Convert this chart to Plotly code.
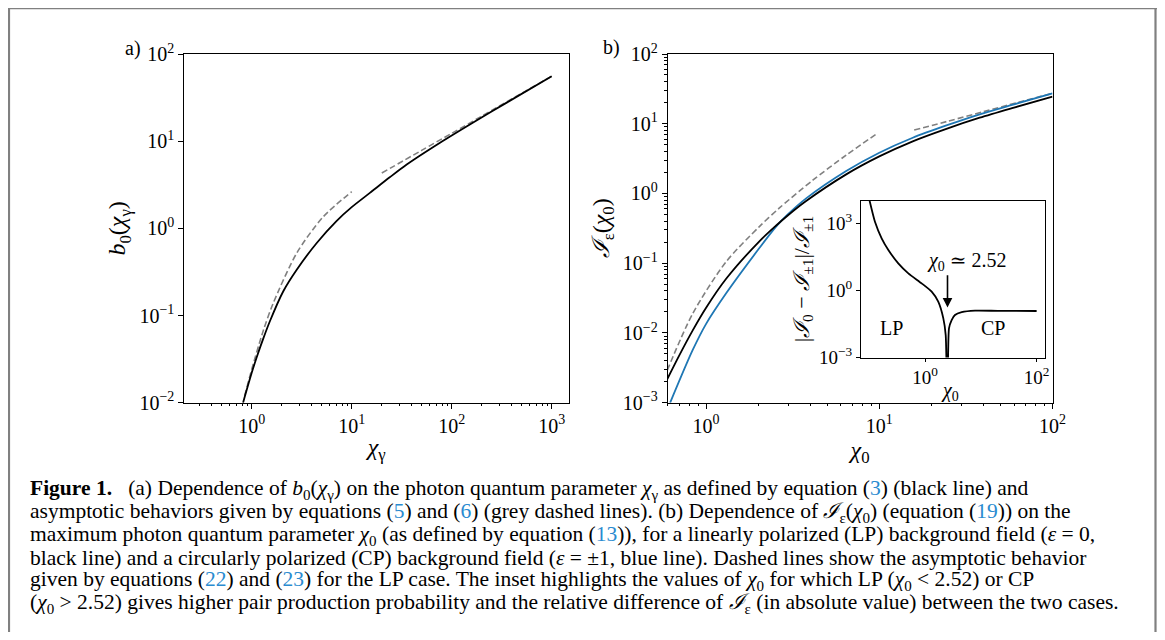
import math
import plotly.graph_objects as go

# ---------------- data ----------------
# Panel a: b0(chi_gamma)
a_chi = [0.82, 1.0, 1.12, 1.31, 1.52, 2.07, 2.82, 4.47, 7.08, 10, 15.2, 24, 35.5, 76.4, 164, 355, 1000]
a_b0 = [0.01, 0.022, 0.033, 0.055, 0.086, 0.19, 0.335, 0.68, 1.22, 1.75, 2.55, 3.85, 5.4, 9.6, 16.4, 27.7, 55.5]
a_small_chi = [0.85, 1.0, 1.31, 1.64, 2.82, 5.2, 10]
a_small_b0 = [0.012, 0.024, 0.068, 0.138, 0.52, 1.36, 2.63]
a_large_chi = [20, 50, 100, 200, 500, 1000]
a_large_b0 = [4.31, 7.84, 12.3, 19.4, 35.3, 55.5]

# Panel b: I_eps(chi_0)
b_chi_lp = [0.596, 0.7, 0.837, 1.0, 1.305, 2.03, 2.52, 2.96, 3.78, 6.44, 10, 15.6, 24.4, 38, 59.2, 100]
b_I_lp = [0.00217, 0.00478, 0.0109, 0.023, 0.0598, 0.206, 0.342, 0.484, 0.78, 1.88, 3.4, 5.6, 8.45, 12.2, 16.9, 24.5]
b_chi_cp = [0.62, 0.837, 1.0, 1.305, 2.03, 2.52, 2.96, 3.78, 6.44, 10, 15.6, 24.4, 38, 59.2, 100]
b_I_cp = [0.001, 0.0057, 0.0135, 0.037, 0.165, 0.33, 0.5, 0.85, 2.1, 3.84, 6.3, 9.46, 13.66, 18.8, 27.2]
b_small_chi = [0.596, 0.837, 1.305, 2.03, 2.65, 4.13, 6.44, 9.8]
b_small_I = [0.0029, 0.019, 0.105, 0.335, 0.62, 1.55, 3.55, 7.36]
b_large_chi = [15.9, 25, 40, 63, 100]
b_large_I = [8.13, 10.9, 14.9, 20.2, 27.3]

# Inset: |I0 - I±1| / I±1
inset_chi = [0.1, 0.126, 0.166, 0.219, 0.33, 0.5, 0.867, 1.31, 1.72, 2.12, 2.34, 2.52,
             2.68, 2.99, 3.43, 4.53, 7.86, 20, 100]
inset_rel = [1.1e4, 1150, 209, 63, 16, 5.7, 2.04, 0.87, 0.31, 0.056, 0.01, 1e-6,
             0.02, 0.047, 0.079, 0.105, 0.123, 0.121, 0.119]
crossing_chi = 2.52
arrow_from, arrow_to = 5.5, 0.17

# Tick labels
a_xtick_vals = [1, 10, 100, 1000]
a_xtick_text = ["10<sup>0</sup>", "10<sup>1</sup>", "10<sup>2</sup>", "10<sup>3</sup>"]
a_ytick_vals = [0.01, 0.1, 1, 10, 100]
a_ytick_text = ["10<sup>−2</sup>", "10<sup>−1</sup>", "10<sup>0</sup>", "10<sup>1</sup>", "10<sup>2</sup>"]
b_xtick_vals = [1, 10, 100]
b_xtick_text = ["10<sup>0</sup>", "10<sup>1</sup>", "10<sup>2</sup>"]
b_ytick_vals = [0.001, 0.01, 0.1, 1, 10, 100]
b_ytick_text = ["10<sup>−3</sup>", "10<sup>−2</sup>", "10<sup>−1</sup>", "10<sup>0</sup>", "10<sup>1</sup>", "10<sup>2</sup>"]
in_xtick_vals = [1, 100]
in_xtick_text = ["10<sup>0</sup>", "10<sup>2</sup>"]
in_ytick_vals = [0.001, 1, 1000]
in_ytick_text = ["10<sup>−3</sup>", "10<sup>0</sup>", "10<sup>3</sup>"]

LINK = "#2a8bd0"
caption_lines = [
    f"<b>Figure 1.</b>\u2002 (a) Dependence of <i>b</i><sub>0</sub>(<i>χ</i><sub>γ</sub>) on the photon quantum parameter <i>χ</i><sub>γ</sub> as defined by equation (<span style='color:{LINK}'>3</span>) (black line) and",
    f"asymptotic behaviors given by equations (<span style='color:{LINK}'>5</span>) and (<span style='color:{LINK}'>6</span>) (grey dashed lines). (b) Dependence of <i>ℐ</i><sub>ε</sub>(<i>χ</i><sub>0</sub>) (equation (<span style='color:{LINK}'>19</span>)) on the",
    f"maximum photon quantum parameter <i>χ</i><sub>0</sub> (as defined by equation (<span style='color:{LINK}'>13</span>)), for a linearly polarized (LP) background field (<i>ε</i> = 0,",
    "black line) and a circularly polarized (CP) background field (<i>ε</i> = ±1, blue line). Dashed lines show the asymptotic behavior",
    f"given by equations (<span style='color:{LINK}'>22</span>) and (<span style='color:{LINK}'>23</span>) for the LP case. The inset highlights the values of <i>χ</i><sub>0</sub> for which LP (<i>χ</i><sub>0</sub> &lt; 2.52) or CP",
    "(<i>χ</i><sub>0</sub> &gt; 2.52) gives higher pair production probability and the relative difference of <i>ℐ</i><sub>ε</sub> (in absolute value) between the two cases.",
]

# ---------------- styling ----------------
OFF = 8                      # the page places the figure 8 px from the window corner
W, H = 1165 - 2 * OFF, 640 - 2 * OFF
SERIF = "Liberation Serif, DejaVu Serif, serif"
BLACK = "black"
BLUE = "#1f77b4"
GREY = "#808080"


def px_x(p):
    return (p - OFF) / W


def px_y(p):
    return 1 - (p - OFF) / H


def log_axis(domain, rng, vals, text, anchor, minor=True, size=20, ticklen=5):
    d = dict(type="log", domain=domain, range=rng, anchor=anchor, automargin=False,
             tickmode="array", tickvals=vals, ticktext=text,
             ticks="outside", ticklen=ticklen, tickwidth=1, tickcolor=BLACK,
             showline=True, linecolor=BLACK, linewidth=1, mirror=True,
             showgrid=False, zeroline=False,
             tickfont=dict(family=SERIF, size=size, color=BLACK))
    if minor:
        d["minor"] = dict(ticks="outside", ticklen=2.5, tickwidth=0.8,
                          tickcolor=BLACK, dtick="D1", showgrid=False)
    return d


fig = go.Figure()

line_black = dict(color=BLACK, width=1.8, shape="spline", smoothing=0.8)
line_blue = dict(color=BLUE, width=1.8, shape="spline", smoothing=0.8)
line_dash = dict(color=GREY, width=1.6, dash="6px,3px", shape="spline", smoothing=0.8)

# Panel a
fig.add_trace(go.Scatter(x=a_small_chi, y=a_small_b0, mode="lines", line=line_dash, xaxis="x", yaxis="y", showlegend=False))
fig.add_trace(go.Scatter(x=a_large_chi, y=a_large_b0, mode="lines", line=line_dash, xaxis="x", yaxis="y", showlegend=False))
fig.add_trace(go.Scatter(x=a_chi, y=a_b0, mode="lines", line=line_black, xaxis="x", yaxis="y", showlegend=False))

# Panel b
fig.add_trace(go.Scatter(x=b_small_chi, y=b_small_I, mode="lines", line=line_dash, xaxis="x2", yaxis="y2", showlegend=False))
fig.add_trace(go.Scatter(x=b_large_chi, y=b_large_I, mode="lines", line=line_dash, xaxis="x2", yaxis="y2", showlegend=False))
fig.add_trace(go.Scatter(x=b_chi_cp, y=b_I_cp, mode="lines", line=line_blue, xaxis="x2", yaxis="y2", showlegend=False))
fig.add_trace(go.Scatter(x=b_chi_lp, y=b_I_lp, mode="lines", line=line_black, xaxis="x2", yaxis="y2", showlegend=False))

# Inset
fig.add_trace(go.Scatter(x=inset_chi, y=inset_rel, mode="lines",
                         line=dict(color=BLACK, width=1.8, shape="spline", smoothing=0.6),
                         xaxis="x3", yaxis="y3", showlegend=False))

ydom = [px_y(402.7), px_y(54)]
xa = log_axis([px_x(184.3), px_x(569)], [-0.674, 3.173], a_xtick_vals, a_xtick_text, "y")
ya = log_axis(ydom, [-2, 2], a_ytick_vals, a_ytick_text, "x", minor=False)
xb = log_axis([px_x(667.7), px_x(1052.5)], [-0.2218, 2], b_xtick_vals, b_xtick_text, "y2")
yb = log_axis(ydom, [-3, 2], b_ytick_vals, b_ytick_text, "x2")
xi = log_axis([px_x(861), px_x(1045)], [-1.15, 2.15], in_xtick_vals, in_xtick_text, "y3",
              minor=False, size=19, ticklen=3)
yi = log_axis([px_y(357.5), px_y(200.7)], [-3, 4], in_ytick_vals, in_ytick_text, "x3",
              minor=False, size=19, ticklen=4)

title_font = dict(family=SERIF, size=24, color=BLACK)
xa["title"] = dict(text="<i>χ</i><sub>γ</sub>", font=title_font, standoff=2)
ya["title"] = dict(text="<i>b</i><sub>0</sub>(<i>χ</i><sub>γ</sub>)", font=title_font, standoff=6)
xb["title"] = dict(text="<i>χ</i><sub>0</sub>", font=title_font, standoff=2)
yb["title"] = dict(text="<i>ℐ</i><sub>ε</sub>(<i>χ</i><sub>0</sub>)", font=title_font, standoff=6)
yi["title"] = dict(text="|<i>ℐ</i><sub>0</sub> − <i>ℐ</i><sub>±1</sub>|/<i>ℐ</i><sub>±1</sub>",
                   font=dict(family=SERIF, size=22, color=BLACK), standoff=3)

label_font = dict(family=SERIF, size=20, color=BLACK)
common = dict(showarrow=False, xanchor="center", yanchor="middle", font=label_font)
annotations = [
    dict(text="a)", x=px_x(133), y=px_y(48), xref="paper", yref="paper", **common),
    dict(text="b)", x=px_x(611), y=px_y(47), xref="paper", yref="paper", **common),
    dict(text="<i>χ</i><sub>0</sub>", x=px_x(950), y=px_y(391), xref="paper", yref="paper", **common),
    dict(text="LP", x=-0.599, y=-1.70, xref="x3", yref="y3", **common),
    dict(text="CP", x=1.223, y=-1.70, xref="x3", yref="y3", **common),
    dict(text="<i>χ</i><sub>0</sub> ≃ 2.52", x=0.746, y=1.277, xref="x3", yref="y3", **common),
    dict(text="", x=math.log10(crossing_chi), y=math.log10(arrow_to), xref="x3", yref="y3",
         ax=math.log10(crossing_chi), ay=math.log10(arrow_from), axref="x3", ayref="y3",
         showarrow=True, arrowhead=2, arrowsize=1.2, arrowwidth=1.6, arrowcolor=BLACK),
]

caption_y = [489, 512, 535, 558, 580.5, 603]
for txt, yy in zip(caption_lines, caption_y):
    annotations.append(dict(text=txt, x=px_x(28), y=px_y(yy), xref="paper", yref="paper",
                            xanchor="left", yanchor="middle", showarrow=False, align="left",
                            font=dict(family=SERIF, size=21.5, color=BLACK)))

shapes = [
    dict(type="line", xref="paper", yref="paper", x0=px_x(9), x1=px_x(9), y0=px_y(8.6), y1=-0.1,
         line=dict(color=GREY, width=2.2)),
    dict(type="line", xref="paper", yref="paper", x0=px_x(8), x1=px_x(1157), y0=px_y(8.6), y1=px_y(8.6),
         line=dict(color=GREY, width=1.2)),
    dict(type="line", xref="paper", yref="paper", x0=px_x(1155.5), x1=px_x(1155.5), y0=px_y(8.6), y1=-0.1,
         line=dict(color=GREY, width=2.2)),
]

fig.update_layout(
    template="none",
    width=W, height=H, margin=dict(l=0, r=0, t=0, b=0, pad=0),
    paper_bgcolor="white", plot_bgcolor="rgba(0,0,0,0)",
    xaxis=xa, yaxis=ya, xaxis2=xb, yaxis2=yb, xaxis3=xi, yaxis3=yi,
    annotations=annotations, shapes=shapes, showlegend=False,
)

fig.write_html("out.html")
